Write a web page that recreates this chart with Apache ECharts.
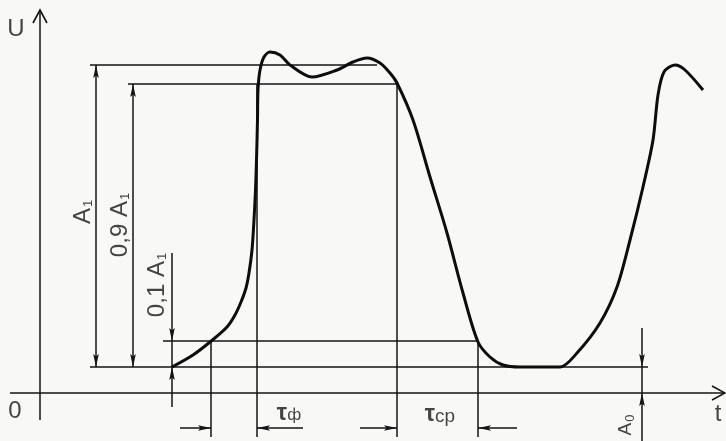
<!DOCTYPE html>
<html>
<head>
<meta charset="utf-8">
<script src="https://cdn.jsdelivr.net/npm/echarts@6/dist/echarts.min.js"></script>
<style>
html,body{margin:0;padding:0;background:#f8f8f7;}
#c{width:726px;height:441px;}
</style>
</head>
<body>
<div id="c"></div>
<script>
// ---- Diagram data (t, U units; origin at axes intersection) ----
const curveT = [132,153,170,187,195,201,206,209,212,214,215.5,216.5,217.5,218,220,224,230,240,250,272,297,313,327,340,350,357,373,390,407,423,438,450,463,480,520,537,560,577,590,603,613,618,624,635,645,663];
const curveU = [26,38,51,66,78,91,105,120,143,173,203,233,273,303,323,336,341,338,328,316,323,331,335,330,320,310,273,216,160,100,51,36,28,26,26,40,70,106,153,206,253,298,321,328,323,303];

// signal levels
const levelA0 = 26, levelA1 = 328, level09 = 309, level01 = 52;
// crossing times
const tRise01 = 171, tRise09 = 217, tFall09 = 357, tFall01 = 438;

// segments: [t1, U1, t2, U2, headAtStart, headAtEnd]  (0 none, 1 filled arrow, 2 open arrow)
const axisSegments = [
  [0, -27, 0, 383, 0, 2],
  [-30, 0, 685, 0, 0, 2]
];
const levelSegments = [
  [50, levelA1, 337, levelA1, 0, 0],
  [88, level09, tFall09, level09, 0, 0],
  [123, level01, tFall01, level01, 0, 0],
  [50, levelA0, 608, levelA0, 0, 0],
  [tRise01, level01, tRise01, -44, 0, 0],
  [tRise09, level09, tRise09, -44, 0, 0],
  [tFall09, level09, tFall09, -44, 0, 0],
  [tFall01, level01, tFall01, -44, 0, 0]
];
const dimSegments = [
  [56, levelA1, 56, levelA0, 1, 1],
  [93, level09, 93, levelA0, 1, 1],
  [132, 140, 132, level01, 0, 1],
  [132, level01, 132, levelA0, 0, 0],
  [132, -14, 132, levelA0, 0, 1],
  [602, 65, 602, levelA0, 0, 1],
  [602, levelA0, 602, 0, 0, 0],
  [602, -48, 602, 0, 0, 1],
  [140, -35, tRise01, -35, 0, 1],
  [263, -35, tRise09, -35, 0, 1],
  [320, -35, tFall09, -35, 0, 1],
  [477, -35, tFall01, -35, 0, 1]
];

// labels: [t, U, rich text, rotate]
const labelItems = [
  [-24, 364, '{b|U}', 0],
  [-25, -18, '{b|0}', 0],
  [678, -21, '{b|t}', 0],
  [43, 181, '{a|A}{s|1}', 90],
  [80, 168, '{a|0,9 A}{s|1}', 90],
  [117, 108, '{a|0,1 A}{s|1}', 90],
  [249, -21, '{t|τ}{u|ф}', 0],
  [400, -22, '{t|τ}{v|cp}', 0],
  [586, -32, '{c|A}{s|0}', 90]
];

const INK = '#141414';
const TXT = '#151515';
const FONT = 'Liberation Sans';

function segRender(params, api) {
  const p1 = api.coord([api.value(0), api.value(1)]);
  const p2 = api.coord([api.value(2), api.value(3)]);
  const hs = api.value(4), he = api.value(5);
  const children = [{
    type: 'line',
    shape: {x1: p1[0], y1: p1[1], x2: p2[0], y2: p2[1]},
    style: {stroke: INK, lineWidth: 1.5}
  }];
  function head(tip, from, kind) {
    if (!kind) return;
    const dx = tip[0] - from[0], dy = tip[1] - from[1];
    const L = Math.hypot(dx, dy) || 1;
    const ux = dx / L, uy = dy / L, nx = -uy, ny = ux;
    if (kind === 1) {
      const len = 13, w = 2.8;
      children.push({
        type: 'polygon',
        shape: {points: [[tip[0], tip[1]],
          [tip[0] - ux * len + nx * w, tip[1] - uy * len + ny * w],
          [tip[0] - ux * len * 0.8, tip[1] - uy * len * 0.8],
          [tip[0] - ux * len - nx * w, tip[1] - uy * len - ny * w]]},
        style: {fill: INK}
      });
    } else {
      const len = 13, w = 7;
      children.push({
        type: 'polyline',
        shape: {points: [[tip[0] - ux * len + nx * w, tip[1] - uy * len + ny * w],
          [tip[0], tip[1]],
          [tip[0] - ux * len - nx * w, tip[1] - uy * len - ny * w]]},
        style: {stroke: INK, lineWidth: 1.6, fill: null}
      });
    }
  }
  head(p1, p2, hs);
  head(p2, p1, he);
  return {type: 'group', children: children};
}

const chart = echarts.init(document.getElementById('c'), null, {renderer: 'canvas'});
chart.setOption({
  backgroundColor: '#f8f8f7',
  animation: false,
  grid: {left: 0, right: 0, top: 0, bottom: 0},
  xAxis: {type: 'value', min: -40, max: 686, show: false},
  yAxis: {type: 'value', min: -48, max: 393, show: false},
  series: [
    {type: 'custom', renderItem: segRender, data: axisSegments, silent: true},
    {type: 'custom', renderItem: segRender, data: levelSegments, silent: true},
    {type: 'custom', renderItem: segRender, data: dimSegments, silent: true},
    {
      type: 'line',
      data: curveT.map((t, i) => [t, curveU[i]]),
      smooth: 0.3,
      showSymbol: false,
      lineStyle: {color: '#0d0d0d', width: 3}
    },
    {
      type: 'scatter',
      symbolSize: 2,
      silent: true,
      itemStyle: {color: 'rgba(0,0,0,0)'},
      label: {
        show: true,
        position: 'inside',
        formatter: p => p.data.txt,
        color: TXT,
        fontFamily: FONT,
        fontSize: 20,
        rich: {
          b: {fontSize: 24, fontFamily: FONT, color: TXT},
          a: {fontSize: 24, fontFamily: FONT, color: TXT},
          c: {fontSize: 19, fontFamily: FONT, color: TXT},
          s: {fontSize: 13, fontFamily: FONT, color: TXT, verticalAlign: 'bottom', padding: [8, 0, 0, 1]},
          t: {fontSize: 23, fontWeight: 'bold', fontFamily: FONT, color: TXT},
          u: {fontSize: 17, fontFamily: FONT, color: TXT, padding: [3, 0, 0, 0]},
          v: {fontSize: 19, fontFamily: FONT, color: TXT, padding: [4, 0, 0, 0]}
        }
      },
      data: labelItems.map(l => ({
        value: [l[0], l[1]],
        txt: l[2],
        label: {rotate: l[3]}
      }))
    }
  ]
});
</script>
</body>
</html>
